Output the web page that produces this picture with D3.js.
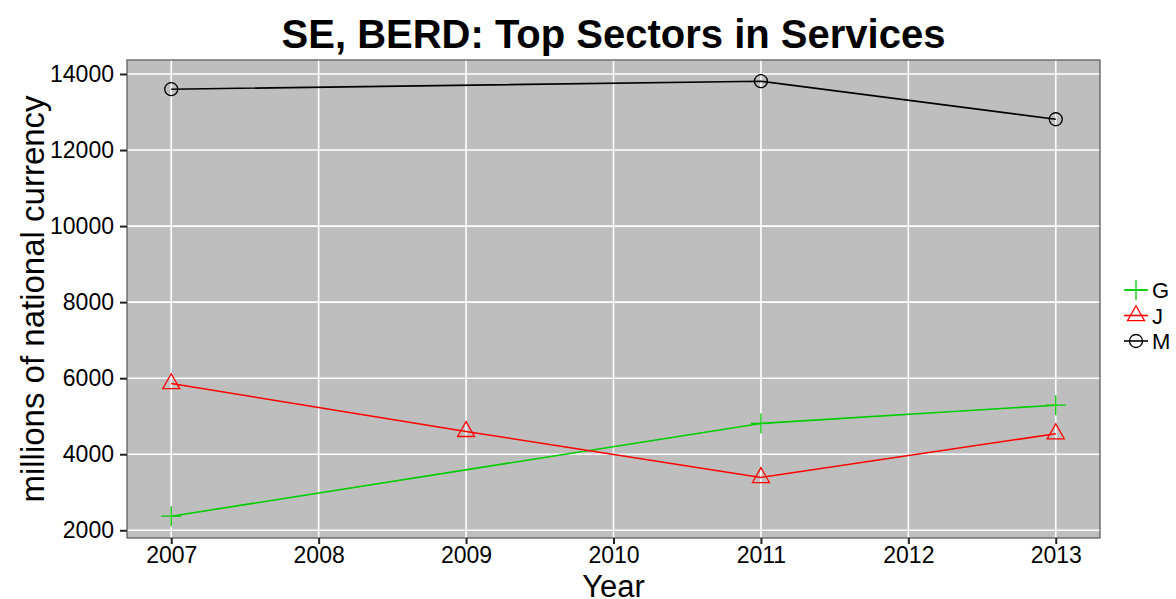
<!DOCTYPE html>
<html><head><meta charset="utf-8">
<script src="https://cdn.jsdelivr.net/npm/d3@7"></script>
<style>body{margin:0;background:#fff}svg{display:block}text{font-family:"Liberation Sans",Arial,sans-serif}</style>
</head><body>
<svg id="c" width="1176" height="599"></svg>
<script>
const years = [2007,2008,2009,2010,2011,2012,2013];
const yTicks = [2000,4000,6000,8000,10000,12000,14000];
const seriesNames = ["G","J","M"];
const seriesColors = ["#00CD00","#FF0000","#000000"];
const gYears = [2007,2011,2013];
const gValues = [2370,4810,5290];
const jYears = [2007,2009,2011,2013];
const jValues = [5860,4600,3390,4540];
const mYears = [2007,2011,2013];
const mValues = [13600,13810,12810];

const svg = d3.select("#c");
const L=127,R=1100,T=60,B=538;
const x = d3.scaleLinear().domain([2006.7,2013.3]).range([L,R]);
const y = d3.scaleLinear().domain([1797,14368]).range([B,T]);

svg.append("rect").attr("x",L).attr("y",T).attr("width",R-L).attr("height",B-T).attr("fill","#BEBEBE");
const grid = svg.append("g");
years.forEach(v=>grid.append("line").attr("x1",x(v)).attr("x2",x(v)).attr("y1",T).attr("y2",B).attr("stroke","#fff").attr("stroke-width",1.6));
yTicks.forEach(v=>grid.append("line").attr("x1",L).attr("x2",R).attr("y1",y(v)).attr("y2",y(v)).attr("stroke","#fff").attr("stroke-width",1.6));

const series = [
  {name:seriesNames[0],color:seriesColors[0],pts:gYears.map((d,i)=>[d,gValues[i]]),shape:"plus"},
  {name:seriesNames[1],color:seriesColors[1],pts:jYears.map((d,i)=>[d,jValues[i]]),shape:"tri"},
  {name:seriesNames[2],color:seriesColors[2],pts:mYears.map((d,i)=>[d,mValues[i]]),shape:"circle"}
];
const line = d3.line().x(d=>x(d[0])).y(d=>y(d[1]));
function marker(g,shape,cx,cy,color){
  if(shape==="plus"){
    g.append("path").attr("d",`M${cx-10},${cy}H${cx+10}M${cx},${cy-10}V${cy+10}`).attr("stroke",color).attr("stroke-width",1.3).attr("fill","none");
  } else if(shape==="tri"){
    const s=8.5;
    g.append("path").attr("d",`M${cx},${cy-s*1.15}L${cx+s},${cy+s*0.6}L${cx-s},${cy+s*0.6}Z`).attr("stroke",color).attr("stroke-width",1.3).attr("fill","none");
  } else {
    g.append("circle").attr("cx",cx).attr("cy",cy).attr("r",6.5).attr("stroke",color).attr("stroke-width",1.3).attr("fill","none");
  }
}
series.forEach(s=>{
  svg.append("path").datum(s.pts).attr("d",line).attr("fill","none").attr("stroke",s.color).attr("stroke-width",1.6);
  const g=svg.append("g");
  s.pts.forEach(p=>marker(g,s.shape,x(p[0]),y(p[1]),s.color));
});
svg.append("rect").attr("x",L).attr("y",T).attr("width",R-L).attr("height",B-T).attr("fill","none").attr("stroke","#555").attr("stroke-width",1.2);

// axes
const xa = svg.append("g").attr("transform",`translate(0,${B})`).call(d3.axisBottom(x).tickValues(years).tickFormat(d3.format("d")).tickSize(6).tickPadding(3));
xa.select(".domain").remove();
xa.selectAll("line").attr("stroke","#222").attr("stroke-width",2);
xa.selectAll("text").attr("font-size",23).attr("fill","#000");
const ya = svg.append("g").attr("transform",`translate(${L},0)`).call(d3.axisLeft(y).tickValues(yTicks).tickFormat(d3.format("d")).tickSize(7).tickPadding(6));
ya.select(".domain").remove();
ya.selectAll("line").attr("stroke","#222").attr("stroke-width",2);
ya.selectAll("text").attr("font-size",23).attr("fill","#000");

svg.append("text").attr("x",(L+R)/2).attr("y",48).attr("text-anchor","middle").attr("font-size",40).attr("font-weight","bold").text("SE, BERD: Top Sectors in Services");
svg.append("text").attr("x",(L+R)/2).attr("y",597).attr("text-anchor","middle").attr("font-size",31).text("Year");
svg.append("text").attr("transform",`translate(44,${(T+B)/2}) rotate(-90)`).attr("text-anchor","middle").attr("font-size",33).text("millions of national currency");

// legend
const lg = svg.append("g");
series.forEach((s,i)=>{
  const cy = 290 + i*25.5;
  lg.append("line").attr("x1",1124).attr("x2",1148).attr("y1",cy).attr("y2",cy).attr("stroke",s.color).attr("stroke-width",1.6);
  marker(lg,s.shape,1136,cy,s.color);
  lg.append("text").attr("x",1152).attr("y",cy+8).attr("font-size",22).text(s.name);
});
</script>
</body></html>
